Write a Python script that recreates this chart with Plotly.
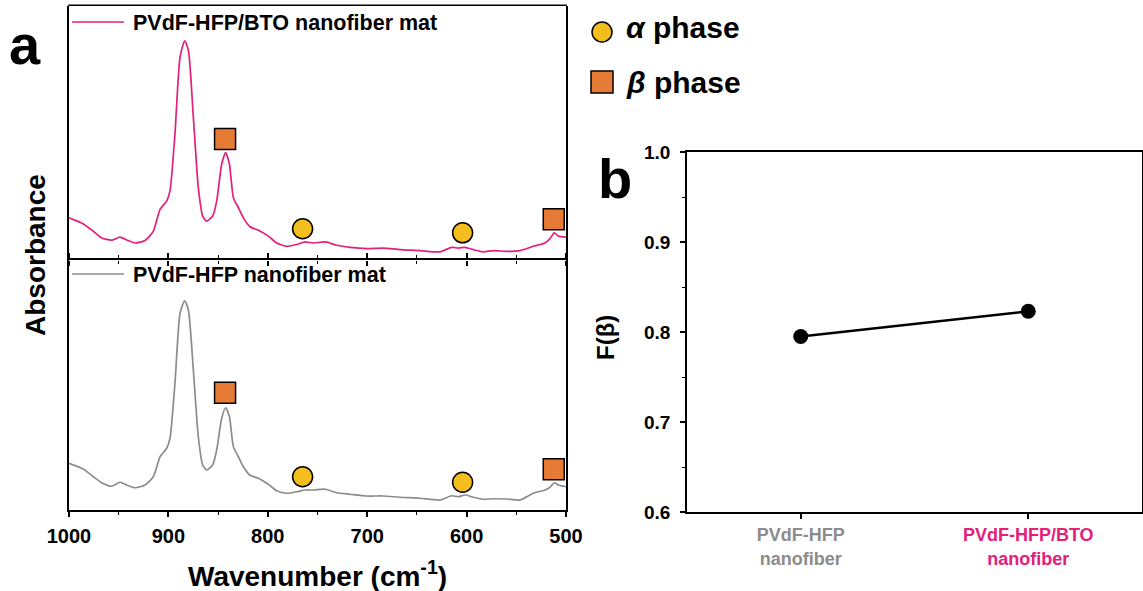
import plotly.graph_objects as go

W, H = 1143, 591
def px(x): return x / W
def py(y): return 1 - y / H

# ---------------- data ----------------
wavenumber = [1000, 985.6, 975.5, 967.1, 957.1, 948.7, 942.0, 933.6, 923.5, 915.2,
              908.4, 901.7, 898.4, 893.4, 888.3, 883.6, 879.9, 874.9, 869.9, 865.5,
              861.5, 855.5, 851.4, 846.4, 842.4, 838.6, 834.6, 829.6, 824.6, 817.9,
              809.5, 799.5, 791.1, 781.0, 770.9, 762.6, 754.2, 742.0, 730.7, 717.3,
              700.5, 683.8, 667.0, 646.9, 626.8, 615.0, 608.3, 601.6, 593.2, 583.2,
              573.1, 559.7, 546.3, 532.9, 521.1, 516.1, 511.7, 507.7, 500]
abs_bto = [16.6, 14.2, 11.3, 8.7, 7.8, 9.0, 7.9, 6.7, 7.7, 11.3,
           19.9, 23.2, 27.2, 49.6, 79.9, 86.3, 82.6, 56.2, 28.5, 17.3,
           15.3, 17.3, 23.2, 37.7, 42.3, 37.7, 24.5, 20.6, 16.6, 13.1,
           11.7, 9.4, 6.7, 5.4, 6.1, 7.1, 6.7, 7.1, 5.8, 5.0,
           4.5, 4.7, 4.1, 3.7, 3.2, 5.0, 4.7, 5.0, 4.1, 3.2,
           3.7, 3.4, 3.7, 5.4, 6.7, 8.4, 10.7, 9.4, 9.0]
abs_pure = [18.7, 16.4, 13.3, 10.9, 9.5, 11.1, 10.0, 8.9, 10.0, 13.3,
            21.3, 24.7, 28.7, 50.7, 78.7, 83.7, 80.0, 56.0, 29.3, 18.0,
            16.0, 18.0, 24.0, 36.7, 40.9, 37.3, 25.3, 21.3, 17.3, 13.9,
            12.7, 10.3, 7.7, 6.7, 7.3, 8.0, 8.0, 8.3, 6.9, 6.3,
            5.6, 5.6, 5.1, 4.7, 4.0, 5.7, 5.3, 6.0, 5.1, 4.3,
            4.5, 4.4, 4.0, 6.7, 8.0, 9.1, 10.9, 10.0, 9.3]

alpha_wn = [765, 604]
alpha_bto_y = [12.3, 10.7]
alpha_pure_y = [13.3, 11.1]
beta_wn = [843, 512.3]
beta_bto_y = [47.6, 16.0]
beta_pure_y = [46.9, 16.3]

samples = ["PVdF-HFP nanofiber", "PVdF-HFP/BTO nanofiber"]
f_beta = [0.795, 0.823]
sample_labels = ['<span style="color:#8C8C8C">PVdF-HFP<br>nanofiber</span>',
                 '<span style="color:#E3207A">PVdF-HFP/BTO<br>nanofiber</span>']

x_ticks = [1000, 900, 800, 700, 600, 500]
fb_ticks = [0.6, 0.7, 0.8, 0.9, 1.0]

PINK = "#E3207A"
GRAY = "#8C8C8C"
YELLOW = "#F4BE1F"
ORANGE = "#E57B35"
FONT = "Liberation Sans"

fig = go.Figure()

# spectra
fig.add_trace(go.Scatter(x=wavenumber, y=abs_bto, mode="lines",
                         line=dict(color=PINK, width=1.7, shape="spline", smoothing=0.6),
                         xaxis="x", yaxis="y", showlegend=False))
fig.add_trace(go.Scatter(x=wavenumber, y=abs_pure, mode="lines",
                         line=dict(color=GRAY, width=1.7, shape="spline", smoothing=0.6),
                         xaxis="x2", yaxis="y2", showlegend=False))
# phase markers
for xa, ya, ay, by in [("x", "y", alpha_bto_y, beta_bto_y), ("x2", "y2", alpha_pure_y, beta_pure_y)]:
    fig.add_trace(go.Scatter(x=alpha_wn, y=ay, mode="markers", xaxis=xa, yaxis=ya,
                             marker=dict(symbol="circle", size=20, color=YELLOW,
                                         line=dict(color="black", width=1.5)),
                             showlegend=False, cliponaxis=False))
    fig.add_trace(go.Scatter(x=beta_wn, y=by, mode="markers", xaxis=xa, yaxis=ya,
                             marker=dict(symbol="square", size=21, color=ORANGE,
                                         line=dict(color="black", width=1.5)),
                             showlegend=False, cliponaxis=False))

# F(beta)
fig.add_trace(go.Scatter(x=[0, 1], y=f_beta, mode="lines+markers", xaxis="x3", yaxis="y3",
                         line=dict(color="black", width=2.5),
                         marker=dict(color="black", size=15), showlegend=False))

axis_common = dict(linecolor="black", linewidth=1.5, showgrid=False,
                   zeroline=False, automargin=False)

y_split = 260
fig.update_layout(
    template="none",
    width=W, height=H, margin=dict(l=0, r=0, t=0, b=0, pad=0, autoexpand=False),
    paper_bgcolor="white", plot_bgcolor="white",
    font=dict(family=FONT, color="black"),
    # top spectrum panel: only downward ticks on shared border (line drawn by lower panel)
    xaxis=dict(domain=[px(69), px(566)], anchor="y", range=[1000, 500],
               tickvals=x_ticks, showticklabels=False, ticks="outside", ticklen=5,
               tickwidth=1.5, tickcolor="black", showline=False,
               minor=dict(dtick=50, tick0=0, ticks="outside", ticklen=3, tickwidth=1.2, tickcolor="black"),
               **axis_common),
    yaxis=dict(domain=[py(y_split), py(6)], anchor="x", range=[0, 100], showticklabels=False,
               ticks="", showline=True, mirror=True, **axis_common),
    xaxis2=dict(domain=[px(69), px(566)], anchor="y2", range=[1000, 500],
                tickvals=x_ticks, ticktext=[str(v) for v in x_ticks], showline=True,
                ticks="outside", ticklen=5, tickwidth=1.5, tickcolor="black", mirror="ticks",
                minor=dict(dtick=50, tick0=0, ticks="outside", ticklen=3, tickwidth=1.2, tickcolor="black"),
                tickfont=dict(size=20, family=FONT, weight="bold", color="black"),
                ticklabelstandoff=2, **axis_common),
    yaxis2=dict(domain=[py(510), py(y_split)], anchor="x2", range=[0, 100], showticklabels=False,
                ticks="", showline=True, mirror=True, **axis_common),
    xaxis3=dict(domain=[px(687), px(1142)], anchor="y3", range=[-0.5, 1.5],
                tickvals=[0, 1], ticktext=sample_labels, ticks="outside", ticklen=5,
                tickwidth=1.5, tickcolor="black", mirror=True, showline=True,
                tickfont=dict(size=18, family=FONT, weight="bold"),
                ticklabelstandoff=1, **axis_common),
    yaxis3=dict(domain=[py(512), py(152)], anchor="x3", range=[0.6, 1.0],
                tickvals=fb_ticks, ticktext=["%.1f" % v for v in fb_ticks],
                ticks="outside", ticklen=5, tickwidth=1.5, tickcolor="black", mirror=True,
                showline=True,
                minor=dict(dtick=0.05, tick0=0.6, ticks="outside", ticklen=3, tickwidth=1.2, tickcolor="black"),
                tickfont=dict(size=19, family=FONT, weight="bold", color="black"),
                ticklabelstandoff=6, **axis_common),
)

annotations = []
def add_text(x, y, text, size, xanchor="center", angle=0, color="black"):
    annotations.append(dict(x=px(x), y=py(y), xref="paper", yref="paper", text=text,
                            showarrow=False, xanchor=xanchor, yanchor="middle",
                            textangle=angle,
                            font=dict(family=FONT, size=size, color=color, weight="bold")))

add_text(25, 44, "a", 56)
add_text(615, 178, "b", 56)
add_text(35, 255, "Absorbance", 28, angle=-90)
add_text(317, 574, "Wavenumber (cm<sup>-1</sup>)", 28)
add_text(605, 338, "F(β)", 24, angle=-90)
add_text(131, 23, "PVdF-HFP/BTO nanofiber mat", 21.5, xanchor="left")
add_text(131, 275, "PVdF-HFP nanofiber mat", 21.5, xanchor="left")
add_text(624, 27, "<i>α</i> phase", 30, xanchor="left")
add_text(624, 82, "<i>β</i> phase", 30, xanchor="left")
fig.update_layout(annotations=annotations)

shapes = [
    # top border of the upper spectrum panel
    dict(type="line", xref="paper", yref="paper", x0=px(68.25), x1=px(566.75), y0=py(5.25), y1=py(5.25),
         line=dict(color="black", width=1.5)),
    dict(type="line", xref="paper", yref="paper", x0=px(72), x1=px(124), y0=py(22), y1=py(22),
         line=dict(color=PINK, width=1.6)),
    dict(type="line", xref="paper", yref="paper", x0=px(72), x1=px(124), y0=py(274), y1=py(274),
         line=dict(color=GRAY, width=1.6)),
    dict(type="circle", xref="paper", yref="paper", x0=px(592), x1=px(612), y0=py(22), y1=py(42),
         fillcolor=YELLOW, line=dict(color="black", width=1.5)),
    dict(type="rect", xref="paper", yref="paper", x0=px(591), x1=px(613), y0=py(71), y1=py(93),
         fillcolor=ORANGE, line=dict(color="black", width=1.5)),
]
fig.update_layout(shapes=shapes)

fig.write_html("out.html")
